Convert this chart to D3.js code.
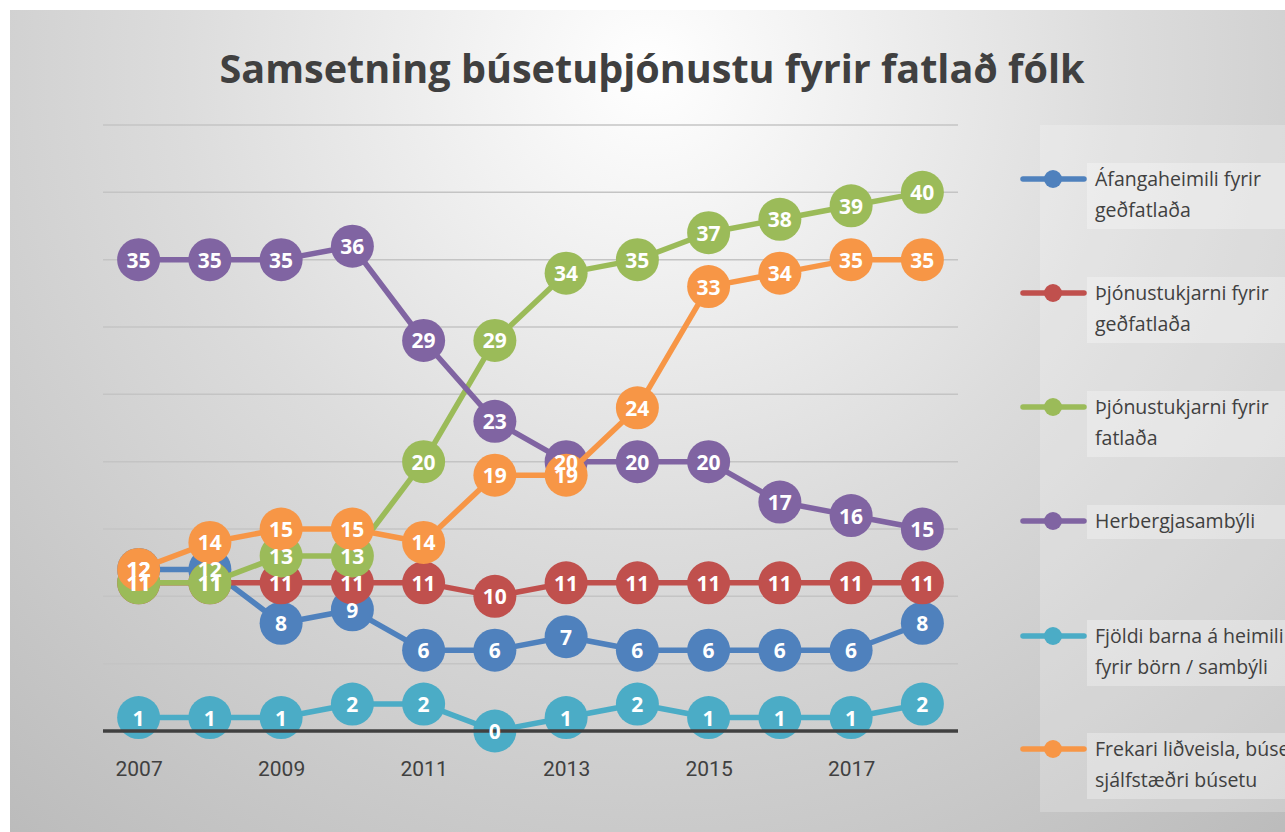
<!DOCTYPE html>
<html><head><meta charset="utf-8">
<script src="https://cdn.jsdelivr.net/npm/d3@7"></script>
<style>body{margin:0;background:#fff}svg{display:block}</style>
</head><body>
<script>
const years = [2007,2008,2009,2010,2011,2012,2013,2014,2015,2016,2017,2018];
const tickYears = [2007,2009,2011,2013,2015,2017];
const legendLines = [
  ["Áfangaheimili fyrir","geðfatlaða"],
  ["Þjónustukjarni fyrir","geðfatlaða"],
  ["Þjónustukjarni fyrir","fatlaða"],
  ["Herbergjasambýli"],
  ["Fjöldi barna á heimili","fyrir börn / sambýli"],
  ["Frekari liðveisla, búsetu","sjálfstæðri búsetu"]
];
const afangaheimili = [12,12,8,9,6,6,7,6,6,6,6,8];
const thjonGedfatl = [11,11,11,11,11,10,11,11,11,11,11,11];
const thjonFatl = [11,11,13,13,20,29,34,35,37,38,39,40];
const herbergja = [35,35,35,36,29,23,20,20,20,17,16,15];
const born = [1,1,1,2,2,0,1,2,1,1,1,2];
const lidveisla = [12,14,15,15,14,19,19,24,33,34,35,35];
const colors = ["#4F81BD","#C0504D","#9BBB59","#8064A2","#4BACC6","#F79646"];
const yTicks = [0,5,10,15,20,25,30,35,40,45];

const allSeries = [afangaheimili, thjonGedfatl, thjonFatl, herbergja, born, lidveisla];
const W=1285,H=832;
const svg=d3.select("body").append("svg").attr("width",W).attr("height",H);
const defs=svg.append("defs");
const rg=defs.append("radialGradient").attr("id","bg").attr("gradientUnits","userSpaceOnUse")
  .attr("cx",650).attr("cy",70).attr("r",1050);
rg.append("stop").attr("offset",0).attr("stop-color","#ffffff");
rg.append("stop").attr("offset",0.45).attr("stop-color","#dcdcdc");
rg.append("stop").attr("offset",1).attr("stop-color","#b8b8b8");
svg.append("rect").attr("x",10).attr("y",10).attr("width",W-10).attr("height",H-10).attr("fill","url(#bg)");

svg.append("text").attr("x",652).attr("y",83).attr("text-anchor","middle")
  .attr("font-family","Open Sans, sans-serif").attr("font-weight",700).attr("font-size",40)
  .attr("fill","#404040").attr("textLength",865).attr("lengthAdjust","spacingAndGlyphs")
  .text("Samsetning búsetuþjónustu fyrir fatlað fólk");

const x=d3.scalePoint().domain(years).range([103,958]).padding(0.5);
const y=d3.scaleLinear().domain([0,45]).range([731,125]);

const g=svg.append("g");
g.selectAll("line.grid").data(yTicks.filter(d=>d>0)).join("line")
  .attr("x1",103).attr("x2",958).attr("y1",d=>y(d)).attr("y2",d=>y(d))
  .attr("stroke","#c4c4c4").attr("stroke-width",1.5);

const xAxis=g.append("g").attr("transform",`translate(0,${y(0)})`)
  .call(d3.axisBottom(x).tickValues(tickYears).tickSize(0).tickPadding(30));
xAxis.select(".domain").remove();
xAxis.selectAll("text").attr("font-family","Liberation Sans Narrow, Roboto, sans-serif")
  .attr("font-size",21).attr("fill","#404040");

const line=d3.line().x((d,i)=>x(years[i])).y(d=>y(d));
const R=21.5;
allSeries.forEach((s,k)=>{
  const sg=g.append("g");
  sg.append("path").datum(s).attr("d",line).attr("fill","none")
    .attr("stroke",colors[k]).attr("stroke-width",5.5).attr("stroke-linejoin","round");
  sg.selectAll("circle").data(s).join("circle")
    .attr("cx",(d,i)=>x(years[i])).attr("cy",d=>y(d)).attr("r",R).attr("fill",colors[k]);
});
svg.append("line").attr("x1",103).attr("x2",958).attr("y1",y(0)).attr("y2",y(0))
  .attr("stroke","#404040").attr("stroke-width",3.5);
allSeries.forEach((s,k)=>{
  svg.append("g").selectAll("text").data(s).join("text")
    .attr("x",(d,i)=>x(years[i])).attr("y",d=>y(d)+8)
    .attr("text-anchor","middle").attr("font-family","Open Sans, sans-serif")
    .attr("font-weight",700).attr("font-size",21).attr("fill","#fff").text(d=>d);
});

// legend
const lg=svg.append("g");
lg.append("rect").attr("x",1040).attr("y",125).attr("width",250).attr("height",687)
  .attr("fill","#ffffff").attr("opacity",0.22);
const legY=[179,293,407,521,636,749];
legendLines.forEach((ls,k)=>{
  const cy=legY[k];
  lg.append("rect").attr("x",1087).attr("y",cy-16).attr("width",210).attr("height",ls.length>1?66:34)
    .attr("fill","#ffffff").attr("opacity",0.3);
  lg.append("line").attr("x1",1023).attr("x2",1084).attr("y1",cy).attr("y2",cy)
    .attr("stroke",colors[k]).attr("stroke-width",5.5).attr("stroke-linecap","round");
  lg.append("circle").attr("cx",1053).attr("cy",cy).attr("r",9).attr("fill",colors[k]);
  ls.forEach((t,j)=>{
    lg.append("text").attr("x",1095).attr("y",cy+7+j*31).attr("font-family","Open Sans, sans-serif")
      .attr("font-size",19.5).attr("fill","#404040").text(t);
  });
});
</script>
</body></html>
